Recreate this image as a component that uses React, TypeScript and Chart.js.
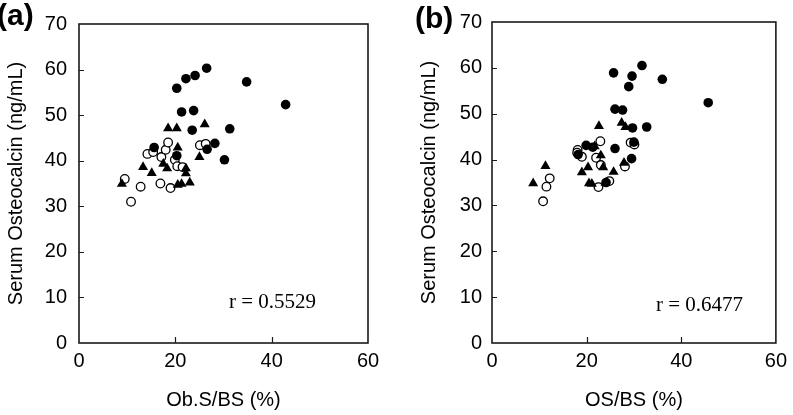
import React, { useEffect, useRef } from 'react';
import { Chart, registerables } from 'chart.js';

Chart.register(...registerables);

const SANS = '"Liberation Sans", Arial, Helvetica, sans-serif';
const SERIF = '"Liberation Serif", "Times New Roman", serif';

// Tick values
const xTickValues = [0, 20, 40, 60];
const yTickValues = [0, 10, 20, 30, 40, 50, 60, 70];

// Panel (a): Ob.S/BS (%) vs serum osteocalcin
const aFilledX = [26.5, 24.1, 22.2, 20.3, 34.8, 42.9, 21.3, 23.8, 23.5, 31.3, 28.2, 26.6, 15.6, 20.3, 30.2];
const aFilledY = [60.3, 58.7, 58.0, 55.9, 57.3, 52.3, 50.7, 51.0, 46.7, 47.0, 43.8, 42.5, 42.9, 41.1, 40.2];
const aTriX = [18.5, 20.3, 26.1, 20.5, 25.0, 13.3, 15.1, 17.5, 18.3, 22.2, 22.2, 8.9, 20.5, 21.3, 23.0];
const aTriY = [47.1, 47.1, 48.0, 42.9, 40.8, 38.6, 37.3, 39.3, 38.3, 38.3, 37.2, 34.9, 34.7, 34.9, 35.2];
const aOpenX = [9.5, 10.8, 12.8, 16.9, 19.0, 14.2, 15.4, 17.1, 18.0, 18.5, 19.9, 20.4, 21.5, 25.1, 26.3];
const aOpenY = [36.0, 31.0, 34.3, 35.0, 34.0, 41.5, 41.9, 40.8, 42.4, 44.0, 40.2, 38.8, 38.6, 43.4, 43.7];

// Panel (b): OS/BS (%) vs serum osteocalcin
const bFilledX = [31.7, 25.7, 29.6, 36.0, 28.9, 45.7, 26.0, 27.6, 29.7, 32.7, 30.0, 26.0, 19.9, 21.3, 18.2, 29.5, 24.1];
const bFilledY = [60.5, 58.9, 58.2, 57.5, 55.9, 52.4, 51.0, 50.8, 46.9, 47.1, 43.8, 42.4, 43.1, 42.7, 41.1, 40.2, 35.0];
const bTriX = [8.7, 11.3, 22.6, 27.4, 28.2, 21.7, 23.0, 20.3, 19.0, 23.5, 20.5, 21.1, 24.0, 27.9, 25.7];
const bTriY = [34.8, 38.6, 47.3, 48.0, 47.1, 42.9, 40.9, 38.3, 37.2, 38.3, 34.8, 34.7, 34.9, 39.3, 37.3];
const bOpenX = [12.2, 11.5, 10.8, 22.9, 18.1, 18.0, 19.0, 22.0, 23.0, 22.5, 29.3, 30.1, 28.1, 24.8];
const bOpenY = [35.9, 34.1, 30.9, 44.0, 42.1, 41.5, 40.6, 40.4, 38.8, 34.0, 43.7, 43.3, 38.5, 35.3];

const yTitle = 'Serum Osteocalcin (ng/mL)';
const aXTitle = 'Ob.S/BS (%)';
const bXTitle = 'OS/BS (%)';
const aR = 'r = 0.5529';
const bR = 'r = 0.6477';

const toPts = (xs: number[], ys: number[]) => xs.map((x, i) => ({ x, y: ys[i] }));

type PanelProps = {
  left: number;
  width: number;
  label: string;
  labelX: number;
  labelY: number;
  xTitle: string;
  rText: string;
  rDx: number;
  rY: number;
  yTickPad: number;
  padRight: number;
  filledX: number[];
  filledY: number[];
  triX: number[];
  triY: number[];
  openX: number[];
  openY: number[];
};

function Panel(p: PanelProps) {
  const ref = useRef<HTMLCanvasElement | null>(null);
  useEffect(() => {
    const canvas = ref.current;
    if (!canvas) return;
    const framePlugin = {
      id: 'frame',
      afterDraw(chart: any) {
        const { ctx, chartArea } = chart;
        const xs = chart.scales.x;
        const ys = chart.scales.y;
        ctx.save();
        ctx.strokeStyle = '#1a1a1a';
        ctx.lineWidth = 1.6;
        ctx.strokeRect(chartArea.left, chartArea.top, chartArea.right - chartArea.left, chartArea.bottom - chartArea.top);
        ctx.lineWidth = 1.2;
        ctx.beginPath();
        yTickValues.slice(1, -1).forEach((v) => {
          const py = Math.round(ys.getPixelForValue(v)) + 0.5;
          ctx.moveTo(chartArea.left, py);
          ctx.lineTo(chartArea.left + 5, py);
        });
        xTickValues.slice(1, -1).forEach((v) => {
          const px = Math.round(xs.getPixelForValue(v)) + 0.5;
          ctx.moveTo(px, chartArea.bottom);
          ctx.lineTo(px, chartArea.bottom - 6);
        });
        ctx.stroke();
        // panel label
        ctx.fillStyle = '#000';
        ctx.font = `bold 30px ${SANS}`;
        ctx.textAlign = 'left';
        ctx.textBaseline = 'alphabetic';
        ctx.fillText(p.label, p.labelX, p.labelY);
        // correlation text
        ctx.font = `21px ${SERIF}`;
        ctx.fillText(p.rText, chartArea.left + p.rDx, p.rY);
        ctx.restore();
      },
    };
    const chart = new Chart(canvas, {
      type: 'scatter',
      data: {
        datasets: [
          {
            data: toPts(p.filledX, p.filledY),
            pointStyle: 'circle',
            pointRadius: 4.8,
            backgroundColor: '#000',
            borderColor: '#000',
            borderWidth: 0,
          },
          {
            data: toPts(p.triX, p.triY),
            pointStyle: 'triangle',
            pointRadius: 5.8,
            backgroundColor: '#000',
            borderColor: '#000',
            borderWidth: 0,
          },
          {
            data: toPts(p.openX, p.openY),
            pointStyle: 'circle',
            pointRadius: 4.3,
            backgroundColor: '#fff',
            borderColor: '#000',
            borderWidth: 1.3,
          },
        ],
      },
      options: {
        responsive: false,
        animation: false,
        devicePixelRatio: 1,
        events: [],
        layout: { padding: { left: 0, right: p.padRight, top: 18, bottom: 0 } },
        plugins: { legend: { display: false }, tooltip: { enabled: false } },
        scales: {
          x: {
            type: 'linear',
            min: 0,
            max: 60,
            afterBuildTicks: (s: any) => {
              s.ticks = xTickValues.map((v) => ({ value: v }));
            },
            afterFit: (s: any) => {
              s.height = 72;
            },
            grid: { display: false, drawTicks: false },
            border: { display: false },
            ticks: { color: '#000', font: { family: SANS, size: 20 }, padding: 6, maxRotation: 0, autoSkip: false },
            title: { display: true, text: p.xTitle, color: '#000', font: { family: SANS, size: 20 }, padding: { top: 0, bottom: 3 } },
          },
          y: {
            type: 'linear',
            min: 0,
            max: 70,
            afterBuildTicks: (s: any) => {
              s.ticks = yTickValues.map((v) => ({ value: v }));
            },
            afterFit: (s: any) => {
              s.width = 79;
            },
            grid: { display: false, drawTicks: false },
            border: { display: false },
            ticks: { color: '#000', font: { family: SANS, size: 20 }, padding: p.yTickPad, autoSkip: false },
            title: { display: true, text: yTitle, color: '#000', font: { family: SANS, size: 20 }, padding: { top: 4, bottom: 0 } },
          },
        },
      },
      plugins: [framePlugin],
    } as any);
    return () => chart.destroy();
  }, []);
  return (
    <canvas
      ref={ref}
      width={p.width}
      height={415}
      style={{ position: 'absolute', left: p.left, top: 0, width: p.width, height: 415 }}
    />
  );
}

export default function App() {
  return (
    <div style={{ position: 'absolute', left: 0, top: 0, width: 793, height: 415, background: '#fff', overflow: 'hidden' }}>
      <Panel
        left={0}
        width={400}
        label="(a)"
        labelX={-3}
        labelY={25}
        xTitle={aXTitle}
        rText={aR}
        rDx={150}
        rY={308}
        yTickPad={12}
        padRight={32}
        filledX={aFilledX}
        filledY={aFilledY}
        triX={aTriX}
        triY={aTriY}
        openX={aOpenX}
        openY={aOpenY}
      />
      <Panel
        left={413}
        width={380}
        label="(b)"
        labelX={2}
        labelY={28}
        xTitle={bXTitle}
        rText={bR}
        rDx={164}
        rY={311}
        yTickPad={10}
        padRight={11}
        filledX={bFilledX}
        filledY={bFilledY}
        triX={bTriX}
        triY={bTriY}
        openX={bOpenX}
        openY={bOpenY}
      />
    </div>
  );
}
